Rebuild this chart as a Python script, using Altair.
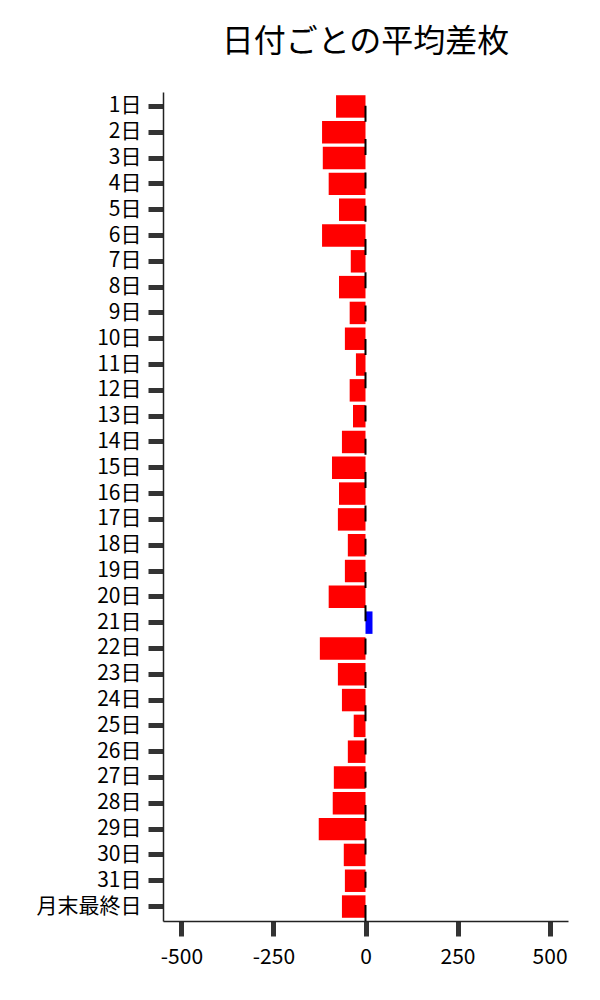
import altair as alt
import pandas as pd

days = [f"{i}日" for i in range(1, 32)] + ["月末最終日"]
values = [-80, -118, -116, -100, -72, -118, -40, -72, -43, -56, -26, -43, -34, -64,
          -91, -72, -75, -48, -56, -100, 19, -124, -75, -64, -32, -48, -86, -89,
          -127, -59, -56, -64]
x_ticks = [-500, -250, 0, 250, 500]
x_domain = [-550, 550]

df = pd.DataFrame({"day": days, "value": values})

W, H = 405, 829
FONT = "Noto Sans CJK JP"

bars = alt.Chart(df).mark_bar().encode(
    y=alt.Y("day:N", sort=None, title=None,
            scale=alt.Scale(paddingInner=0.13, paddingOuter=0.125),
            axis=alt.Axis(labelFont=FONT, labelFontSize=21, labelColor="black",
                          tickSize=15, tickWidth=5, tickColor="#333333",
                          domainColor="#222222", domainWidth=1.5,
                          labelPadding=7, grid=False)),
    x=alt.X("value:Q", title=None,
            scale=alt.Scale(domain=x_domain, nice=False, zero=False),
            axis=alt.Axis(values=x_ticks, labelExpr="toString(datum.value)",
                          labelFont=FONT, labelFontSize=21, labelColor="black",
                          tickSize=15, tickWidth=5, tickColor="#333333",
                          domainColor="#222222", domainWidth=1.5,
                          labelPadding=10, grid=False)),
    color=alt.when(alt.datum.value < 0).then(alt.value("#ff0000")).otherwise(alt.value("#0000ff")),
)

zero_df = pd.DataFrame({"zero": [0]})
rule = alt.Chart(zero_df).mark_rule(color="black", strokeWidth=2, strokeDash=[16, 17.3]).encode(
    x="zero:Q",
    y=alt.value(H),
    y2=alt.value(0),
)

chart = alt.layer(bars, rule).properties(
    width=W, height=H,
    title=alt.TitleParams("日付ごとの平均差枚", font=FONT, fontSize=32, fontWeight="normal",
                          color="black", anchor="middle", frame="group", offset=32),
    padding={"left": 28, "top": 18, "right": 5, "bottom": 5},
).configure_view(stroke=None)

chart.save("out.html", embed_options={"renderer": "svg", "actions": False})
